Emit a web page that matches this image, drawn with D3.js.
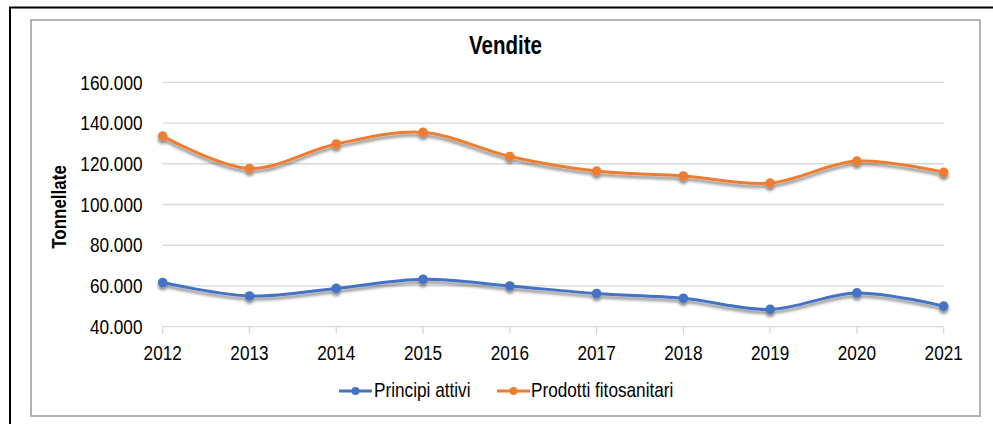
<!DOCTYPE html>
<html>
<head>
<meta charset="utf-8">
<script src="https://cdn.jsdelivr.net/npm/d3@7"></script>
<style>
html,body{margin:0;padding:0;background:#fff;}
svg{display:block;}
text{font-family:"Liberation Sans",Arial,sans-serif;fill:#000;}
</style>
</head>
<body>
<svg id="chart" width="993" height="424"></svg>
<script>
const years = ["2012","2013","2014","2015","2016","2017","2018","2019","2020","2021"];
const principiAttivi = [61700,55100,58800,63300,60000,56300,54000,48500,56600,50100];
const prodottiFitosanitari = [133600,117700,129700,135400,123600,116400,114000,110500,121300,115800];
const yTicks = [40000,60000,80000,100000,120000,140000,160000];
const seriesNames = ["Principi attivi","Prodotti fitosanitari"];
const seriesColors = ["#4472C4","#ED7D31"];
const title = "Vendite";
const yTitle = "Tonnellate";

const svg = d3.select("#chart");
const fmt = v => d3.format(",")(v).replace(/,/g,".");

// frames
svg.append("path").attr("d","M10,424 L10,7.5 L993,7.5").attr("fill","none").attr("stroke","#000").attr("stroke-width",2);
svg.append("rect").attr("x",31).attr("y",20).attr("width",949).attr("height",396)
  .attr("fill","#fff").attr("stroke","#9a9a9a").attr("stroke-width",1.5);

const defs = svg.append("defs");
const f = defs.append("filter").attr("id","shadow").attr("x","-5%").attr("y","-20%").attr("width","110%").attr("height","160%");
f.append("feDropShadow").attr("dx",0).attr("dy",3).attr("stdDeviation",1.6)
  .attr("flood-color","#000").attr("flood-opacity",0.45);

const x = d3.scalePoint().domain(years).range([162.7,943.7]).padding(0);
const y = d3.scaleLinear().domain([40000,160000]).range([326.7,82.3]);

// gridlines
const grid = svg.append("g");
grid.selectAll("line").data(yTicks).join("line")
  .attr("x1",x.range()[0]).attr("x2",x.range()[1])
  .attr("y1",d=>y(d)).attr("y2",d=>y(d))
  .attr("stroke","#d9d9d9").attr("stroke-width",1.3);

// x ticks
svg.append("g").selectAll("line").data(years).join("line")
  .attr("x1",d=>x(d)).attr("x2",d=>x(d)).attr("y1",y(40000)).attr("y2",y(40000)+7)
  .attr("stroke","#d9d9d9").attr("stroke-width",1.3);

// y labels
svg.append("g").selectAll("text").data(yTicks).join("text")
  .attr("transform",d=>`translate(142.5,${y(d)}) scale(1,1.2)`)
  .attr("text-anchor","end").attr("dy","0.35em")
  .style("font-size","17.2px").text(d=>fmt(d));

// x labels
svg.append("g").selectAll("text").data(years).join("text")
  .attr("transform",d=>`translate(${x(d)},353) scale(1,1.2)`)
  .attr("text-anchor","middle").attr("dy","0.35em")
  .style("font-size","17.2px").text(d=>d);

// title
svg.append("text").attr("transform","translate(505.5,45) scale(1,1.25)")
  .attr("text-anchor","middle").attr("dy","0.35em")
  .style("font-size","20.5px").style("font-weight","bold").text(title);

// y title
svg.append("text").attr("transform","translate(59,207) rotate(-90) scale(1,1.2)")
  .attr("text-anchor","middle").attr("dy","0.35em")
  .style("font-size","17px").style("font-weight","bold").text(yTitle);

// lines
const line = d3.line().x((d,i)=>x(years[i])).y(d=>y(d)).curve(d3.curveCatmullRom.alpha(0.5));
const allSeries = [principiAttivi, prodottiFitosanitari];
allSeries.forEach((s,k)=>{
  const g = svg.append("g").attr("filter","url(#shadow)");
  g.append("path").attr("d",line(s)).attr("fill","none")
    .attr("stroke",seriesColors[k]).attr("stroke-width",3).attr("stroke-linecap","round");
  g.selectAll("circle").data(s).join("circle")
    .attr("cx",(d,i)=>x(years[i])).attr("cy",d=>y(d)).attr("r",4.8)
    .attr("fill",seriesColors[k]);
});

// legend
const legendItems = [{x:339, tx:374},{x:497, tx:531}];
legendItems.forEach((it,k)=>{
  const g = svg.append("g");
  g.append("line").attr("x1",it.x).attr("x2",it.x+33).attr("y1",391).attr("y2",391)
    .attr("stroke",seriesColors[k]).attr("stroke-width",3);
  g.append("circle").attr("cx",it.x+16.5).attr("cy",391).attr("r",4).attr("fill",seriesColors[k]);
  g.append("text").attr("transform",`translate(${it.tx},390) scale(1,1.2)`).attr("dy","0.35em")
    .style("font-size","17.2px").text(seriesNames[k]);
});
</script>
</body>
</html>
